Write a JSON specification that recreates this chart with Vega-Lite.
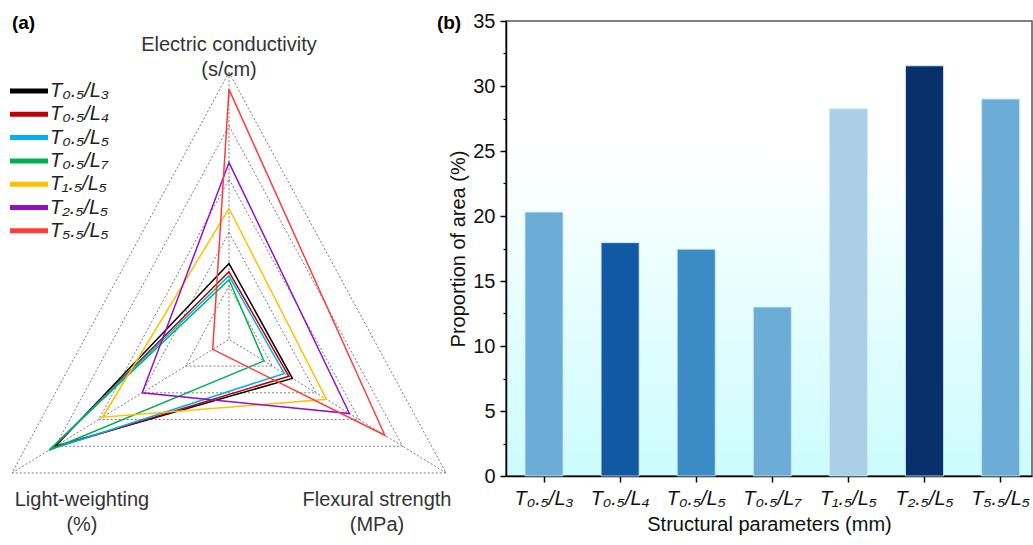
{
  "$schema": "https://vega.github.io/schema/vega-lite/v6.json",
  "background": "white",
  "padding": {"top": 10, "left": 0, "right": 0, "bottom": 0},
  "bounds": "flush",
  "spacing": 46,
  "resolve": {"scale": {"color": "independent"}, "legend": {"color": "independent"}},
  "config": {"font": "Liberation Sans", "view": {"stroke": null}},
  "datasets": {
    "radar": [
      {"s": "T₀.₅/L₃", "axis": "EC", "r": 0.284}, {"s": "T₀.₅/L₃", "axis": "FS", "r": 0.292}, {"s": "T₀.₅/L₃", "axis": "LW", "r": 0.80},
      {"s": "T₀.₅/L₄", "axis": "EC", "r": 0.253}, {"s": "T₀.₅/L₄", "axis": "FS", "r": 0.276}, {"s": "T₀.₅/L₄", "axis": "LW", "r": 0.815},
      {"s": "T₀.₅/L₅", "axis": "EC", "r": 0.238}, {"s": "T₀.₅/L₅", "axis": "FS", "r": 0.255}, {"s": "T₀.₅/L₅", "axis": "LW", "r": 0.825},
      {"s": "T₀.₅/L₇", "axis": "EC", "r": 0.223}, {"s": "T₀.₅/L₇", "axis": "FS", "r": 0.161}, {"s": "T₀.₅/L₇", "axis": "LW", "r": 0.83},
      {"s": "T₁.₅/L₅", "axis": "EC", "r": 0.49}, {"s": "T₁.₅/L₅", "axis": "FS", "r": 0.449}, {"s": "T₁.₅/L₅", "axis": "LW", "r": 0.583},
      {"s": "T₂.₅/L₅", "axis": "EC", "r": 0.662}, {"s": "T₂.₅/L₅", "axis": "FS", "r": 0.555}, {"s": "T₂.₅/L₅", "axis": "LW", "r": 0.40},
      {"s": "T₅.₅/L₅", "axis": "EC", "r": 0.936}, {"s": "T₅.₅/L₅", "axis": "FS", "r": 0.718}, {"s": "T₅.₅/L₅", "axis": "LW", "r": 0.075}
    ],
    "grid": [
      {"level": 0.2, "axis": "EC"}, {"level": 0.2, "axis": "FS"}, {"level": 0.2, "axis": "LW"},
      {"level": 0.4, "axis": "EC"}, {"level": 0.4, "axis": "FS"}, {"level": 0.4, "axis": "LW"},
      {"level": 0.6, "axis": "EC"}, {"level": 0.6, "axis": "FS"}, {"level": 0.6, "axis": "LW"},
      {"level": 0.8, "axis": "EC"}, {"level": 0.8, "axis": "FS"}, {"level": 0.8, "axis": "LW"},
      {"level": 1.0, "axis": "EC"}, {"level": 1.0, "axis": "FS"}, {"level": 1.0, "axis": "LW"}
    ],
    "axes": [
      {"axis": "EC", "label": "Electric conductivity\n(s/cm)"},
      {"axis": "FS", "label": "Flexural strength\n(MPa)"},
      {"axis": "LW", "label": "Light-weighting\n(%)"}
    ],
    "panels": [
      {"panel": "(a)", "px": -0.82, "py": 1.183},
      {"panel": "(b)", "px": 0.878, "py": 1.183}
    ],
    "bars": [
      {"s": "T₀.₅/L₃", "v": 20.3},
      {"s": "T₀.₅/L₄", "v": 17.95},
      {"s": "T₀.₅/L₅", "v": 17.45},
      {"s": "T₀.₅/L₇", "v": 13.0},
      {"s": "T₁.₅/L₅", "v": 28.25},
      {"s": "T₂.₅/L₅", "v": 31.55},
      {"s": "T₅.₅/L₅", "v": 29.0}
    ]
  },
  "hconcat": [
    {
      "width": 460,
      "height": 455,
      "layer": [
        {
          "data": {"name": "grid"},
          "transform": [
            {"calculate": "datum.axis == 'EC' ? PI/2 : (datum.axis == 'FS' ? -PI/6 : 7*PI/6)", "as": "t"},
            {"calculate": "datum.level * cos(datum.t)", "as": "x"},
            {"calculate": "datum.level * sin(datum.t)", "as": "y"}
          ],
          "mark": {"type": "line", "interpolate": "linear-closed", "color": "#7a7a7a", "strokeWidth": 1, "strokeDash": [2, 2]},
          "encoding": {
            "x": {"field": "x", "type": "quantitative", "scale": {"domain": [-0.9138, 0.9218], "nice": false, "zero": false}, "axis": null},
            "y": {"field": "y", "type": "quantitative", "scale": {"domain": [-0.5114, 1.1919], "nice": false, "zero": false}, "axis": null},
            "detail": {"field": "level", "type": "nominal"},
            "order": {"field": "axis", "type": "ordinal"}
          }
        },
        {
          "data": {"name": "grid"},
          "transform": [
            {"filter": "datum.level == 1"},
            {"calculate": "datum.axis == 'EC' ? PI/2 : (datum.axis == 'FS' ? -PI/6 : 7*PI/6)", "as": "t"},
            {"calculate": "datum.level * cos(datum.t)", "as": "x"},
            {"calculate": "datum.level * sin(datum.t)", "as": "y"}
          ],
          "mark": {"type": "rule", "color": "#7a7a7a", "strokeWidth": 1, "strokeDash": [2, 2]},
          "encoding": {
            "x": {"field": "x", "type": "quantitative"},
            "y": {"field": "y", "type": "quantitative"},
            "x2": {"datum": 0},
            "y2": {"datum": 0}
          }
        },
        {
          "data": {"name": "radar"},
          "transform": [
            {"calculate": "datum.axis == 'EC' ? PI/2 : (datum.axis == 'FS' ? -PI/6 : 7*PI/6)", "as": "t"},
            {"calculate": "datum.r * cos(datum.t)", "as": "x"},
            {"calculate": "datum.r * sin(datum.t)", "as": "y"}
          ],
          "mark": {"type": "line", "interpolate": "linear-closed", "strokeWidth": 1.5},
          "encoding": {
            "x": {"field": "x", "type": "quantitative"},
            "y": {"field": "y", "type": "quantitative"},
            "order": {"field": "axis", "type": "ordinal"},
            "color": {
              "field": "s", "type": "nominal",
              "scale": {
                "domain": ["T₀.₅/L₃", "T₀.₅/L₄", "T₀.₅/L₅", "T₀.₅/L₇", "T₁.₅/L₅", "T₂.₅/L₅", "T₅.₅/L₅"],
                "range": ["#000000", "#c00000", "#00b0f0", "#00b050", "#ffc000", "#9410c8", "#ff3b3b"]
              },
              "legend": {
                "title": null, "orient": "none", "legendX": 17, "legendY": 58, "padding": 0,
                "symbolType": "M-2,0H2", "symbolSize": 361, "symbolStrokeWidth": 5,
                "labelFontSize": 20, "labelFontStyle": "italic", "labelColor": "#222",
                "rowPadding": 1.3, "labelOffset": 9
              }
            }
          }
        },
        {
          "data": {"name": "axes"},
          "transform": [
            {"filter": "datum.axis == 'EC'"},
            {"calculate": "0", "as": "x"},
            {"calculate": "1", "as": "y"}
          ],
          "mark": {"type": "text", "align": "center", "baseline": "middle", "lineBreak": "\n", "lineHeight": 25, "fontSize": 20, "color": "#333", "dy": -27},
          "encoding": {
            "x": {"field": "x", "type": "quantitative"},
            "y": {"field": "y", "type": "quantitative"},
            "text": {"field": "label"}
          }
        },
        {
          "data": {"name": "axes"},
          "transform": [
            {"filter": "datum.axis == 'LW'"},
            {"calculate": "cos(7*PI/6)", "as": "x"},
            {"calculate": "sin(7*PI/6)", "as": "y"}
          ],
          "mark": {"type": "text", "align": "center", "baseline": "middle", "lineBreak": "\n", "lineHeight": 25, "fontSize": 20, "color": "#333", "dx": 70, "dy": 27},
          "encoding": {
            "x": {"field": "x", "type": "quantitative"},
            "y": {"field": "y", "type": "quantitative"},
            "text": {"field": "label"}
          }
        },
        {
          "data": {"name": "axes"},
          "transform": [
            {"filter": "datum.axis == 'FS'"},
            {"calculate": "cos(-PI/6)", "as": "x"},
            {"calculate": "sin(-PI/6)", "as": "y"}
          ],
          "mark": {"type": "text", "align": "center", "baseline": "middle", "lineBreak": "\n", "lineHeight": 25, "fontSize": 20, "color": "#333", "dx": -69, "dy": 27},
          "encoding": {
            "x": {"field": "x", "type": "quantitative"},
            "y": {"field": "y", "type": "quantitative"},
            "text": {"field": "label"}
          }
        },
        {
          "data": {"name": "panels"},
          "mark": {"type": "text", "align": "center", "baseline": "middle", "fontSize": 19, "fontWeight": "bold", "color": "#000"},
          "encoding": {
            "x": {"field": "px", "type": "quantitative"},
            "y": {"field": "py", "type": "quantitative"},
            "text": {"field": "panel"}
          }
        }
      ]
    },
    {
      "width": 526,
      "height": 455,
      "view": {
        "stroke": "#555", "strokeWidth": 1.5,
        "fill": {"gradient": "linear", "x1": 0, "y1": 0, "x2": 0, "y2": 1,
          "stops": [{"offset": 0, "color": "#ffffff"}, {"offset": 0.28, "color": "#ffffff"}, {"offset": 1, "color": "#cbfcfd"}]}
      },
      "data": {"name": "bars"},
      "resolve": {"axis": {"y": "independent"}},
      "layer": [
        {
          "mark": {"type": "bar", "stroke": "#d6ecf7", "strokeWidth": 1, "strokeOpacity": 0.8},
          "encoding": {
            "x": {
              "field": "s", "type": "nominal", "sort": null,
              "scale": {"paddingInner": 0.5, "paddingOuter": 0.206, "align": 0.606},
              "axis": {
                "title": "Structural parameters (mm)", "labelAngle": 0, "labelFontSize": 20, "labelFontStyle": "italic",
                "labelColor": "#111", "labelPadding": 6, "tickSize": 6, "tickColor": "#000", "tickWidth": 1.5,
                "domainColor": "#000", "domainWidth": 1.5, "titleFontSize": 20, "titleFontWeight": "normal",
                "titleColor": "#111", "titlePadding": 6
              }
            },
            "y": {
              "field": "v", "type": "quantitative",
              "scale": {"domain": [0, 35], "nice": false},
              "axis": {
                "title": "Proportion of area (%)", "values": [0, 5, 10, 15, 20, 25, 30, 35], "grid": false,
                "tickSize": 6, "tickWidth": 1.5, "tickColor": "#000", "domainColor": "#000", "domainWidth": 1.5,
                "labelFontSize": 20, "labelColor": "#111", "labelPadding": 5, "titleFontSize": 20,
                "titleFontWeight": "normal", "titlePadding": 4, "titleColor": "#111"
              }
            },
            "color": {
              "field": "s", "type": "nominal",
              "scale": {
                "domain": ["T₀.₅/L₃", "T₀.₅/L₄", "T₀.₅/L₅", "T₀.₅/L₇", "T₁.₅/L₅", "T₂.₅/L₅", "T₅.₅/L₅"],
                "range": ["#6badd6", "#1259a3", "#3b8bc7", "#6badd6", "#abcfe7", "#08306b", "#6badd6"]
              },
              "legend": null
            }
          }
        },
        {
          "mark": {"type": "bar", "opacity": 0},
          "encoding": {
            "x": {"field": "s", "type": "nominal", "sort": null},
            "y": {
              "field": "v", "type": "quantitative",
              "axis": {
                "orient": "left", "title": null, "values": [2.5, 7.5, 12.5, 17.5, 22.5, 27.5, 32.5],
                "labels": false, "domain": false, "grid": false, "tickSize": 3, "tickWidth": 1.2, "tickColor": "#000"
              }
            }
          }
        }
      ]
    }
  ]
}
